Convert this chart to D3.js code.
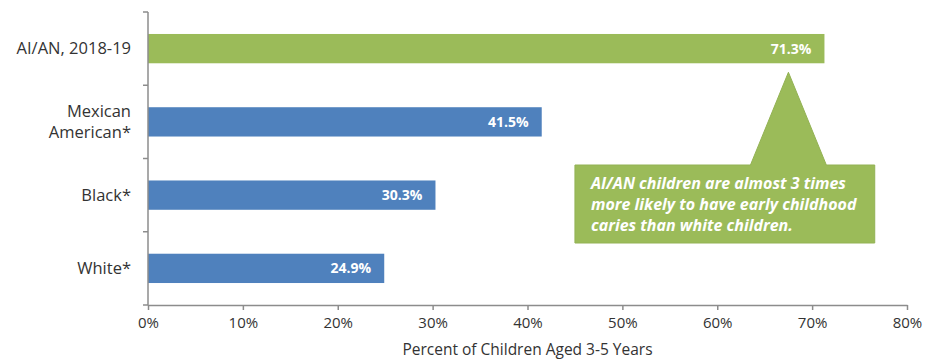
<!DOCTYPE html>
<html>
<head>
<meta charset="utf-8">
<script src="https://cdn.jsdelivr.net/npm/d3@7/dist/d3.min.js"></script>
<style>
  html, body { margin: 0; padding: 0; background: #ffffff; }
  svg { display: block; }
  text { font-family: "Open Sans", "Noto Sans", sans-serif; }
</style>
</head>
<body>
<svg id="chart" width="926" height="360"></svg>
<script>
// Early childhood caries, percent of children aged 3-5
const categories = ["AI/AN, 2018-19", "Mexican American*", "Black*", "White*"];
const values = [71.3, 41.5, 30.3, 24.9];
const highlight = [true, false, false, false];
const xTicks = [0, 10, 20, 30, 40, 50, 60, 70, 80];
const xTitle = "Percent of Children Aged 3-5 Years";
const calloutLines = [
  "AI/AN children are almost 3 times",
  "more likely to have early childhood",
  "caries than white children."
];

const W = 926, H = 360;
const margin = { top: 12, right: 19, bottom: 55, left: 148 };
const GREEN = "#9BBB59", BLUE = "#4F81BD", AXIS = "#8c8c8c", TEXT = "#333333";

const svg = d3.select("#chart");

const x = d3.scaleLinear().domain([0, 80]).range([margin.left, W - margin.right]);
const y = d3.scaleBand().domain(categories)
  .range([margin.top, H - margin.bottom])
  .paddingInner(0.6).paddingOuter(0.3);

// bars
svg.append("g").selectAll("rect")
  .data(categories)
  .join("rect")
  .attr("x", x(0))
  .attr("y", d => y(d))
  .attr("width", (d, i) => x(values[i]) - x(0))
  .attr("height", y.bandwidth())
  .attr("fill", (d, i) => highlight[i] ? GREEN : BLUE);

// value labels inside bar ends
svg.append("g").selectAll("text")
  .data(categories)
  .join("text")
  .attr("x", (d, i) => x(values[i]) - 13)
  .attr("y", d => y(d) + y.bandwidth() / 2)
  .attr("dy", "0.35em")
  .attr("text-anchor", "end")
  .attr("fill", "#ffffff")
  .attr("font-size", 14)
  .attr("font-weight", 700)
  .text((d, i) => values[i].toFixed(1) + "%");

// x axis
const xAxis = svg.append("g")
  .attr("transform", `translate(0,${H - margin.bottom})`)
  .call(d3.axisBottom(x).tickValues(xTicks).tickFormat(d => d + "%").tickSize(5).tickPadding(7).tickSizeOuter(0));
xAxis.select(".domain").attr("stroke", AXIS).attr("stroke-width", 1.5);
xAxis.selectAll(".tick line").attr("stroke", AXIS).attr("stroke-width", 1.5);
xAxis.selectAll(".tick text").attr("fill", TEXT).attr("font-size", 15)
  .attr("font-family", "'Open Sans', sans-serif");

// y axis line with ticks at category boundaries
const yAxis = svg.append("g");
yAxis.append("line")
  .attr("x1", x(0)).attr("x2", x(0))
  .attr("y1", y.range()[0]).attr("y2", y.range()[1])
  .attr("stroke", AXIS).attr("stroke-width", 1.5);
const step = y.step();
const bounds = d3.range(categories.length + 1).map(i => y.range()[0] + i * step);
yAxis.selectAll(".ytick")
  .data(bounds)
  .join("line")
  .attr("x1", x(0) - 5).attr("x2", x(0))
  .attr("y1", d => d).attr("y2", d => d)
  .attr("stroke", AXIS).attr("stroke-width", 1.5);

// category labels (split on the space before "American")
const catSize = 16.5;
svg.append("g").selectAll("text")
  .data(categories)
  .join("text")
  .attr("x", x(0) - 17)
  .attr("y", d => y(d) + y.bandwidth() / 2)
  .attr("text-anchor", "end")
  .attr("fill", TEXT)
  .attr("font-size", catSize)
  .each(function (d) {
    const t = d3.select(this);
    const parts = d === "Mexican American*" ? ["Mexican", "American*"] : [d];
    const lh = 21;
    parts.forEach((p, k) => {
      t.append("tspan")
        .attr("x", x(0) - 17)
        .attr("dy", k === 0 ? (0.35 * catSize - (parts.length - 1) * lh / 2) : lh)
        .text(p);
    });
  });

// x axis title
svg.append("text")
  .attr("x", (x.range()[0] + x.range()[1]) / 2)
  .attr("y", H - 5)
  .attr("text-anchor", "middle")
  .attr("fill", TEXT)
  .attr("font-size", 15.5)
  .text(xTitle);

// callout pointing at the highlighted bar
const topBar = categories[0];
const boxX0 = x(45), boxX1 = x(76.6);
const boxY0 = 165, boxY1 = 243;
const apexX = x(67.5), apexY = y(topBar) + y.bandwidth() + 9;
const baseL = x(63.5), baseR = x(71.5);
const callout = svg.append("g");
callout.append("path")
  .attr("d", `M${boxX0},${boxY0} L${baseL},${boxY0} L${apexX},${apexY} L${baseR},${boxY0} L${boxX1},${boxY0} L${boxX1},${boxY1} L${boxX0},${boxY1} Z`)
  .attr("fill", GREEN)
  .attr("stroke", "#93b254")
  .attr("stroke-width", 1);
callout.append("text")
  .attr("x", boxX0 + 16)
  .attr("y", boxY0 + 18)
  .attr("fill", "#ffffff")
  .attr("font-size", 16)
  .attr("font-weight", 700)
  .attr("font-style", "italic")
  .selectAll("tspan")
  .data(calloutLines)
  .join("tspan")
  .attr("x", boxX0 + 16)
  .attr("dy", (d, i) => i === 0 ? "0.35em" : 21)
  .text(d => d);
</script>
</body>
</html>
